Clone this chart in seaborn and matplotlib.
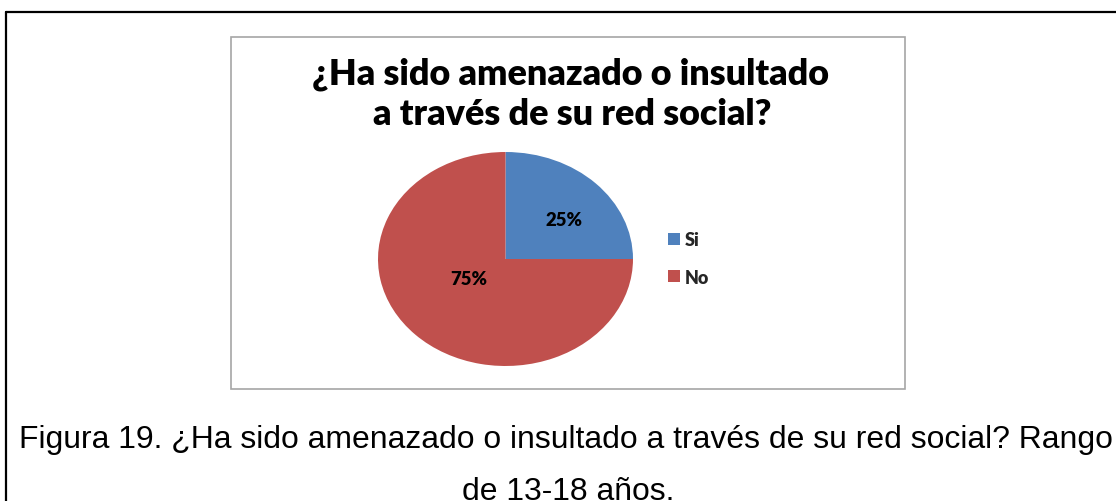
import matplotlib
matplotlib.use("Agg")
import matplotlib.pyplot as plt
import seaborn as sns
import numpy as np
from matplotlib.lines import Line2D
from matplotlib.patches import Rectangle

# Survey answers (share of respondents, %)
categories = ["Si", "No"]
shares = [25, 75]
title_lines = ["¿Ha sido amenazado o insultado", "a través de su red social?"]
caption_lines = [
    "Figura 19. ¿Ha sido amenazado o insultado a través de su red social? Rango",
    "de 13-18 años.",
]

sns.set_theme(style="white")
palette = sns.color_palette(["#4F81BD", "#C0504D"])
plt.rcParams["font.family"] = ["Lato", "DejaVu Sans"]

W, H = 1116, 502
fig = plt.figure(figsize=(W / 100, H / 100), dpi=100, facecolor="white")


def fx(px):
    return px / W


def fy(py):
    return 1 - py / H


renderer = fig.canvas.get_renderer()


def fit_width(txt, target):
    bb = txt.get_window_extent(renderer)
    txt.set_fontsize(txt.get_fontsize() * target / bb.width)


# Page frame around the figure block (continues past the right/bottom edge)
fig.add_artist(Line2D([fx(6), fx(W + 5)], [fy(13), fy(13)], transform=fig.transFigure,
                      color="black", lw=1.6))
fig.add_artist(Line2D([fx(6), fx(6)], [fy(13), fy(H + 5)], transform=fig.transFigure,
                      color="black", lw=1.6))

# Chart area box
fig.add_artist(Rectangle((fx(231), fy(390)), fx(905) - fx(231), fy(38) - fy(390),
                         transform=fig.transFigure, facecolor="none",
                         edgecolor="#A6A6A6", lw=1.2))

# Title (two lines, bold)
t1 = fig.text(fx(571), fy(85), title_lines[0], ha="center", va="baseline",
              fontsize=22, fontweight="heavy", color="black")
fit_width(t1, 518)
t2 = fig.text(fx(572), fy(125), title_lines[1], ha="center", va="baseline",
              fontsize=t1.get_fontsize(), fontweight="heavy", color="black")

# Pie (slightly flattened, as drawn in the chart)
cx, cy, rx, ry = 505.5, 260, 127.5, 107
ax = fig.add_axes([fx(cx - 1.25 * rx), fy(cy + 1.25 * ry), 2.5 * rx / W, 2.5 * ry / H])
wedges, _ = ax.pie(shares, colors=palette, startangle=90, counterclock=False,
                   wedgeprops=dict(linewidth=0))
ax.set_aspect("auto")
ax.set_xlim(-1.25, 1.25)
ax.set_ylim(-1.25, 1.25)
ax.axis("off")

# Percentage labels: distance from centre and angular shift from each wedge's middle
label_dist = [0.59, 0.34]
label_shift = [-6, -13]
for w, v, d, s in zip(wedges, shares, label_dist, label_shift):
    ang = np.deg2rad((w.theta1 + w.theta2) / 2 + s)
    t = ax.text(d * np.cos(ang), d * np.sin(ang), f"{v}%", ha="center", va="center",
                fontsize=10, fontweight="heavy", color="black")
    fit_width(t, 37)

# Legend
leg = fig.legend(wedges, categories, loc="upper left",
                 bbox_to_anchor=(fx(668), fy(232)), frameon=False,
                 prop=dict(weight="heavy", size=13), handlelength=0.65, handleheight=0.65,
                 handletextpad=0.3, labelspacing=1.15, borderpad=0, borderaxespad=0)

# Caption below the chart
c1 = fig.text(fx(565.5), fy(448), caption_lines[0], ha="center", va="baseline",
              fontsize=21, family=["Liberation Sans", "DejaVu Sans"], color="black")
fit_width(c1, 1095)
c2 = fig.text(fx(568), fy(500), caption_lines[1], ha="center", va="baseline",
              fontsize=c1.get_fontsize(), family=["Liberation Sans", "DejaVu Sans"],
              color="black")

fig.savefig("out.png", dpi=100, facecolor="white")
